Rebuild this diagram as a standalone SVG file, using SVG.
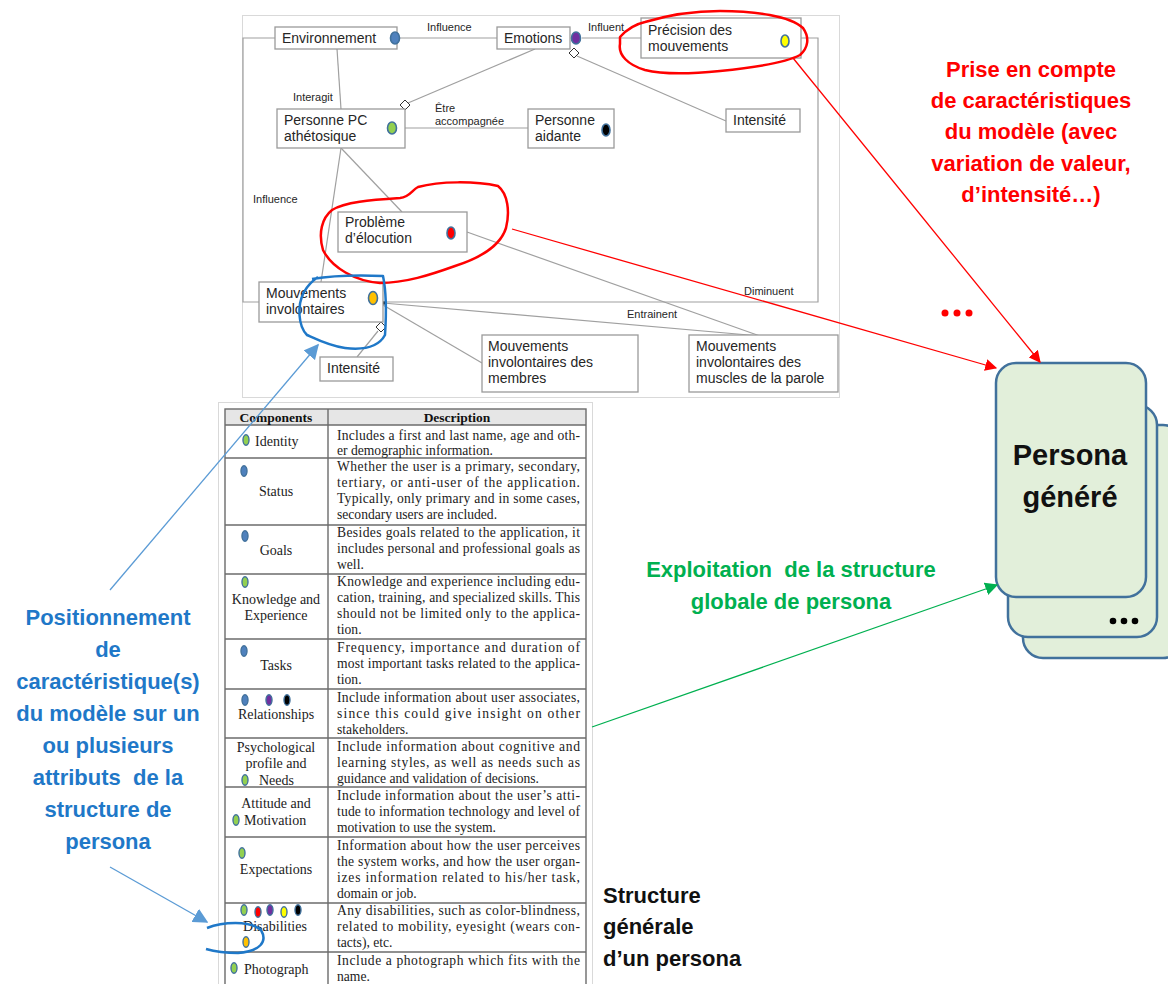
<svg xmlns="http://www.w3.org/2000/svg" width="1168" height="984" viewBox="0 0 1168 984">
<defs>
<style>
.frame{fill:#fff;stroke:#d9d9d9;stroke-width:1}
.box{fill:#fff;stroke:#9a9a9a;stroke-width:1.3}
.con{fill:none;stroke:#a0a0a0;stroke-width:1.2}
.dia{fill:#fff;stroke:#333;stroke-width:1}
.bt{font-family:"Liberation Sans",Arial,sans-serif;font-size:14px;fill:#262626}
.lb{font-family:"Liberation Sans",Arial,sans-serif;font-size:11px;fill:#262626}
.dot{stroke:#41719c;stroke-width:1.6}
.tdot{stroke:#41719c;stroke-width:1.4}
.tline{stroke:#6b6b6b;stroke-width:1.4;fill:none}
.th{font-family:"Liberation Serif","Times New Roman",serif;font-size:13.5px;font-weight:bold;fill:#111;text-anchor:middle}
.tc{font-family:"Liberation Serif","Times New Roman",serif;font-size:14px;fill:#222;text-anchor:middle}
.tcl{font-family:"Liberation Serif","Times New Roman",serif;font-size:14px;fill:#222}
.td{font-family:"Liberation Serif","Times New Roman",serif;font-size:13.6px;fill:#222}
.big{font-family:"Liberation Sans",Arial,sans-serif;font-size:22px;font-weight:bold;text-anchor:middle}
.red{fill:#ff0000}
.green{fill:#00b050}
.blue{fill:#1f78c8}
.card{fill:#e2efda;stroke:#41719c;stroke-width:2.5}
.redline{stroke:#ff0000;stroke-width:1.3;fill:none}
.scrib-r{stroke:#ff0000;stroke-width:2.5;fill:none;stroke-linejoin:round}
.scrib-b{stroke:#1f78c8;stroke-width:2.5;fill:none;stroke-linejoin:round}
</style>
<marker id="ar" viewBox="0 0 10 10" refX="9" refY="5" markerWidth="12" markerHeight="12" markerUnits="userSpaceOnUse" orient="auto"><path d="M0,0 L10,5 L0,10 Z" fill="#ff0000"/></marker>
<marker id="ag" viewBox="0 0 10 10" refX="9" refY="5" markerWidth="13" markerHeight="13" markerUnits="userSpaceOnUse" orient="auto"><path d="M0,0 L10,5 L0,10 Z" fill="#00b050"/></marker>
<marker id="ab" viewBox="0 0 10 10" refX="9" refY="5" markerWidth="15" markerHeight="15" markerUnits="userSpaceOnUse" orient="auto"><path d="M0,0 L10,5 L0,10 Z" fill="#5b9bd5"/></marker>
</defs>
<rect width="1168" height="984" fill="#fff"/>

<!-- top model image frame -->
<rect class="frame" x="242.5" y="15.5" width="597" height="382"/>

<g id="connectors">
<polyline class="con" points="275,38 243,38 243,302 818,302 818,38 801,38"/>
<line class="con" x1="397" y1="38" x2="497" y2="38"/>
<line class="con" x1="582" y1="38" x2="641" y2="38"/>
<line class="con" x1="337" y1="49" x2="341" y2="109"/>
<line class="con" x1="535" y1="49" x2="408" y2="103"/>
<line class="con" x1="405" y1="128" x2="528" y2="128"/>
<line class="con" x1="577" y1="56" x2="726" y2="121"/>
<line class="con" x1="341" y1="148" x2="321" y2="282"/>
<line class="con" x1="341" y1="148" x2="402" y2="212"/>
<line class="con" x1="467" y1="232" x2="760" y2="336"/>
<line class="con" x1="383" y1="303" x2="760" y2="336"/>
<line class="con" x1="383" y1="305" x2="482" y2="363"/>
<line class="con" x1="378" y1="331" x2="357" y2="357"/>
<path class="dia" d="M405,100 L410,105 L405,110 L400,105 Z"/>
<path class="dia" d="M574,48 L579,53 L574,58 L569,53 Z"/>
<path class="dia" d="M381,322 L386,327 L381,332 L376,327 Z"/>
<circle cx="384" cy="303" r="1.8" fill="#222"/>
<text class="lb" x="427" y="31">Influence</text>
<text class="lb" x="588" y="31">Influent</text>
<text class="lb" x="293" y="101">Interagit</text>
<text class="lb" x="435" y="112">Être</text>
<text class="lb" x="435" y="125">accompagnée</text>
<text class="lb" x="253" y="203">Influence</text>
<text class="lb" x="744" y="295">Diminuent</text>
<text class="lb" x="627" y="318">Entrainent</text>
</g>

<g id="n-environnement">
<rect class="box" x="275" y="27" width="122" height="22"/>
<text class="bt" x="282" y="43">Environnement</text>
<ellipse class="dot" cx="395" cy="38" rx="4.5" ry="6" fill="#4f81bd"/>
</g>
<g id="n-emotions">
<rect class="box" x="497" y="27" width="73" height="22"/>
<text class="bt" x="504" y="43">Emotions</text>
<ellipse class="dot" cx="576" cy="38" rx="4.5" ry="6" fill="#7030a0"/>
</g>
<g id="n-precision">
<rect class="box" x="641" y="18" width="160" height="40"/>
<text class="bt" x="648" y="35">Précision des</text>
<text class="bt" x="648" y="51">mouvements</text>
<ellipse class="dot" cx="785" cy="41" rx="4" ry="6" fill="#ffff00"/>
</g>
<g id="n-intensite1">
<rect class="box" x="726" y="109" width="74" height="23"/>
<text class="bt" x="733" y="125">Intensité</text>
</g>
<g id="n-personnepc">
<rect class="box" x="277" y="109" width="128" height="39"/>
<text class="bt" x="284" y="125">Personne PC</text>
<text class="bt" x="284" y="141">athétosique</text>
<ellipse class="dot" cx="392" cy="128" rx="4.5" ry="6" fill="#92d050"/>
</g>
<g id="n-aidante">
<rect class="box" x="528" y="109" width="86" height="39"/>
<text class="bt" x="535" y="125">Personne</text>
<text class="bt" x="535" y="141">aidante</text>
<ellipse class="dot" cx="606" cy="130" rx="4" ry="6" fill="#000"/>
</g>
<g id="n-probleme">
<rect class="box" x="338" y="212" width="129" height="40"/>
<text class="bt" x="345" y="227">Problème</text>
<text class="bt" x="345" y="243">d’élocution</text>
<ellipse class="dot" cx="451" cy="233" rx="4" ry="6" fill="#ff0000"/>
</g>
<g id="n-mouvements">
<rect class="box" x="259" y="282" width="124" height="40"/>
<text class="bt" x="266" y="298">Mouvements</text>
<text class="bt" x="266" y="314">involontaires</text>
<ellipse class="dot" cx="373" cy="298" rx="4.5" ry="6.5" fill="#ffc000"/>
</g>
<g id="n-intensite2">
<rect class="box" x="320" y="357" width="73" height="24"/>
<text class="bt" x="327" y="373">Intensité</text>
</g>
<g id="n-membres">
<rect class="box" x="482" y="335" width="156" height="57"/>
<text class="bt" x="488" y="351">Mouvements</text>
<text class="bt" x="488" y="367">involontaires des</text>
<text class="bt" x="488" y="383">membres</text>
</g>
<g id="n-parole">
<rect class="box" x="689" y="335" width="149" height="57"/>
<text class="bt" x="696" y="351">Mouvements</text>
<text class="bt" x="696" y="367">involontaires des</text>
<text class="bt" x="696" y="383">muscles de la parole</text>
</g>

<!-- table image -->
<g id="table">
<rect class="frame" x="218.5" y="402.5" width="374" height="590"/>
<rect x="225" y="409" width="361" height="16" fill="#e6e6e6"/>
<rect class="tline" x="225" y="409" width="361" height="585"/>
<line class="tline" x1="328" y1="409" x2="328" y2="984"/>
<line class="tline" x1="225" y1="425" x2="586" y2="425"/>
<line class="tline" x1="225" y1="458" x2="586" y2="458"/>
<line class="tline" x1="225" y1="525" x2="586" y2="525"/>
<line class="tline" x1="225" y1="574" x2="586" y2="574"/>
<line class="tline" x1="225" y1="639" x2="586" y2="639"/>
<line class="tline" x1="225" y1="689" x2="586" y2="689"/>
<line class="tline" x1="225" y1="738" x2="586" y2="738"/>
<line class="tline" x1="225" y1="787" x2="586" y2="787"/>
<line class="tline" x1="225" y1="837" x2="586" y2="837"/>
<line class="tline" x1="225" y1="903" x2="586" y2="903"/>
<line class="tline" x1="225" y1="952" x2="586" y2="952"/>
<text class="th" x="276" y="422">Components</text>
<text class="th" x="457" y="422">Description</text>

<ellipse class="tdot" cx="246" cy="440" rx="3" ry="5.2" fill="#92d050"/>
<text class="tcl" x="255" y="446">Identity</text>
<text class="td" x="337" y="440" textLength="243" lengthAdjust="spacing">Includes a first and last name, age and oth-</text>
<text class="td" x="337" y="455">er demographic information.</text>

<ellipse class="tdot" cx="244" cy="471" rx="3" ry="5.2" fill="#4f81bd"/>
<text class="tc" x="276" y="496">Status</text>
<text class="td" x="337" y="471" textLength="243" lengthAdjust="spacing">Whether the user is a primary, secondary,</text>
<text class="td" x="337" y="487" textLength="243" lengthAdjust="spacing">tertiary, or anti-user of the application.</text>
<text class="td" x="337" y="503" textLength="243" lengthAdjust="spacing">Typically, only primary and in some cases,</text>
<text class="td" x="337" y="519">secondary users are included.</text>

<ellipse class="tdot" cx="245" cy="536" rx="3" ry="5.2" fill="#4f81bd"/>
<text class="tc" x="276" y="555">Goals</text>
<text class="td" x="337" y="537" textLength="243" lengthAdjust="spacing">Besides goals related to the application, it</text>
<text class="td" x="337" y="553" textLength="243" lengthAdjust="spacing">includes personal and professional goals as</text>
<text class="td" x="337" y="569">well.</text>

<ellipse class="tdot" cx="245" cy="582" rx="3" ry="5.2" fill="#92d050"/>
<text class="tc" x="276" y="604">Knowledge and</text>
<text class="tc" x="276" y="620">Experience</text>
<text class="td" x="337" y="586" textLength="243" lengthAdjust="spacing">Knowledge and experience including edu-</text>
<text class="td" x="337" y="602" textLength="243" lengthAdjust="spacing">cation, training, and specialized skills. This</text>
<text class="td" x="337" y="618" textLength="243" lengthAdjust="spacing">should not be limited only to the applica-</text>
<text class="td" x="337" y="634">tion.</text>

<ellipse class="tdot" cx="244" cy="651" rx="3" ry="5.2" fill="#4f81bd"/>
<text class="tc" x="276" y="670">Tasks</text>
<text class="td" x="337" y="652" textLength="243" lengthAdjust="spacing">Frequency, importance and duration of</text>
<text class="td" x="337" y="668" textLength="243" lengthAdjust="spacing">most important tasks related to the applica-</text>
<text class="td" x="337" y="684">tion.</text>

<ellipse class="tdot" cx="245" cy="700" rx="3" ry="5.2" fill="#4f81bd"/>
<ellipse class="tdot" cx="269" cy="700" rx="3" ry="5.2" fill="#7030a0"/>
<ellipse class="tdot" cx="287" cy="700" rx="3" ry="5.2" fill="#000"/>
<text class="tc" x="276" y="719">Relationships</text>
<text class="td" x="337" y="702" textLength="243" lengthAdjust="spacing">Include information about user associates,</text>
<text class="td" x="337" y="718" textLength="243" lengthAdjust="spacing">since this could give insight on other</text>
<text class="td" x="337" y="734">stakeholders.</text>

<text class="tc" x="276" y="752">Psychological</text>
<text class="tc" x="276" y="768">profile and</text>
<ellipse class="tdot" cx="245" cy="780" rx="3" ry="5.2" fill="#92d050"/>
<text class="tcl" x="259" y="785">Needs</text>
<text class="td" x="337" y="751" textLength="243" lengthAdjust="spacing">Include information about cognitive and</text>
<text class="td" x="337" y="767" textLength="243" lengthAdjust="spacing">learning styles, as well as needs such as</text>
<text class="td" x="337" y="783">guidance and validation of decisions.</text>

<text class="tc" x="276" y="808">Attitude and</text>
<ellipse class="tdot" cx="236" cy="820" rx="3" ry="5.2" fill="#92d050"/>
<text class="tcl" x="244" y="825">Motivation</text>
<text class="td" x="337" y="800" textLength="243" lengthAdjust="spacing">Include information about the user’s atti-</text>
<text class="td" x="337" y="816" textLength="243" lengthAdjust="spacing">tude to information technology and level of</text>
<text class="td" x="337" y="832">motivation to use the system.</text>

<ellipse class="tdot" cx="242" cy="853" rx="3" ry="5.2" fill="#92d050"/>
<text class="tc" x="276" y="874">Expectations</text>
<text class="td" x="337" y="850" textLength="243" lengthAdjust="spacing">Information about how the user perceives</text>
<text class="td" x="337" y="866" textLength="243" lengthAdjust="spacing">the system works, and how the user organ-</text>
<text class="td" x="337" y="882" textLength="243" lengthAdjust="spacing">izes information related to his/her task,</text>
<text class="td" x="337" y="898">domain or job.</text>

<ellipse class="tdot" cx="244" cy="910" rx="3" ry="5.2" fill="#92d050"/>
<ellipse class="tdot" cx="258" cy="912" rx="3" ry="5.2" fill="#ff0000"/>
<ellipse class="tdot" cx="270" cy="910" rx="3" ry="5.2" fill="#7030a0"/>
<ellipse class="tdot" cx="284" cy="912" rx="3" ry="5.2" fill="#ffff00"/>
<ellipse class="tdot" cx="298" cy="910" rx="3" ry="5.2" fill="#000"/>
<text class="tc" x="275" y="931">Disabilities</text>
<ellipse class="tdot" cx="246" cy="942" rx="3" ry="5.2" fill="#ffc000"/>
<text class="td" x="337" y="915" textLength="243" lengthAdjust="spacing">Any disabilities, such as color-blindness,</text>
<text class="td" x="337" y="931" textLength="243" lengthAdjust="spacing">related to mobility, eyesight (wears con-</text>
<text class="td" x="337" y="947">tacts), etc.</text>

<ellipse class="tdot" cx="234" cy="968" rx="3" ry="5.2" fill="#92d050"/>
<text class="tcl" x="244" y="974">Photograph</text>
<text class="td" x="337" y="965" textLength="243" lengthAdjust="spacing">Include a photograph which fits with the</text>
<text class="td" x="337" y="981">name.</text>
</g>

<!-- freehand highlight scribbles -->
<g id="scribbles">
<path class="scrib-r" d="M620,37 C628,28 636,24 645,22 C665,16 690,11 720,11 C755,11 790,16 803,28 C810,38 808,48 800,55 C785,63 750,68 720,71 C690,74 665,75 645,70 C628,65 618,55 620,44 Z"/>
<path class="scrib-r" d="M332,210 C345,202 370,200 400,198 C410,197 412,190 418,187 C440,181 475,181 498,186 C508,194 510,212 506,228 C500,247 480,258 455,266 C430,275 405,283 380,283 C355,281 332,268 323,250 C318,233 322,218 332,210 Z"/>
<path class="scrib-b" d="M312,279 C330,276 360,275 383,276 C387,295 386,320 385,335 C378,348 362,350 345,348 C330,346 318,340 307,335 C298,326 297,305 304,292 C308,285 312,281 318,277"/>
<path class="scrib-b" d="M207,928 C222,922 250,920 261,930 C268,942 260,951 238,953 C224,953 213,951 206,949"/>
</g>

<!-- persona cards -->
<g id="n-persona">
<rect class="card" x="1023" y="425" width="160" height="233" rx="20"/>
<rect class="card" x="1008" y="405" width="149" height="232" rx="20"/>
<rect class="card" x="996" y="363" width="150" height="234" rx="20"/>
<text x="1070" y="465" font-family="Liberation Sans,Arial,sans-serif" font-size="29" font-weight="bold" fill="#111" text-anchor="middle">Persona</text>
<text x="1070" y="507" font-family="Liberation Sans,Arial,sans-serif" font-size="29" font-weight="bold" fill="#111" text-anchor="middle">généré</text>
<circle cx="1113" cy="621" r="3.3" fill="#000"/>
<circle cx="1124" cy="621" r="3.3" fill="#000"/>
<circle cx="1135" cy="621" r="3.3" fill="#000"/>
</g>

<g id="arrows">
<line class="redline" x1="512" y1="229" x2="996" y2="368" marker-end="url(#ar)"/>
<line class="redline" x1="793" y1="58" x2="1040" y2="362" marker-end="url(#ar)"/>
<line x1="592" y1="727" x2="997" y2="585" stroke="#00b050" stroke-width="1.3" marker-end="url(#ag)"/>
<line x1="110" y1="590" x2="318" y2="345" stroke="#5b9bd5" stroke-width="1.3" marker-end="url(#ab)"/>
<line x1="110" y1="867" x2="207" y2="922" stroke="#5b9bd5" stroke-width="1.3" marker-end="url(#ab)"/>
</g>

<g id="t-red">
<text class="big red" x="1031" y="77">Prise en compte</text>
<text class="big red" x="1031" y="108">de caractéristiques</text>
<text class="big red" x="1031" y="139">du modèle (avec</text>
<text class="big red" x="1031" y="171">variation de valeur,</text>
<text class="big red" x="1031" y="202">d’intensité…)</text>
<circle cx="945" cy="313" r="3.5" fill="#ff0000"/>
<circle cx="957" cy="313" r="3.5" fill="#ff0000"/>
<circle cx="969" cy="313" r="3.5" fill="#ff0000"/>
</g>
<g id="t-green">
<text class="big green" x="791" y="577" xml:space="preserve">Exploitation  de la structure</text>
<text class="big green" x="791" y="609">globale de persona</text>
</g>
<g id="t-blue">
<text class="big blue" x="108" y="625">Positionnement</text>
<text class="big blue" x="108" y="657">de</text>
<text class="big blue" x="108" y="689">caractéristique(s)</text>
<text class="big blue" x="108" y="721">du modèle sur un</text>
<text class="big blue" x="108" y="753">ou plusieurs</text>
<text class="big blue" x="108" y="785" xml:space="preserve">attributs  de la</text>
<text class="big blue" x="108" y="817">structure de</text>
<text class="big blue" x="108" y="849">persona</text>
</g>
<g id="t-structure">
<text x="603" y="903" font-family="Liberation Sans,Arial,sans-serif" font-size="22" font-weight="bold" fill="#111">Structure</text>
<text x="603" y="934" font-family="Liberation Sans,Arial,sans-serif" font-size="22" font-weight="bold" fill="#111">générale</text>
<text x="603" y="966" font-family="Liberation Sans,Arial,sans-serif" font-size="22" font-weight="bold" fill="#111">d’un persona</text>
</g>
</svg>
